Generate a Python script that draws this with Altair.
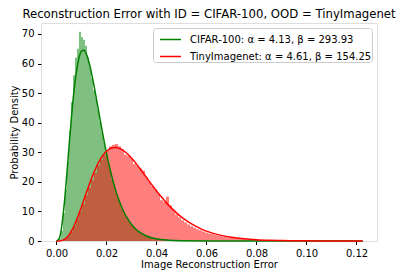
import altair as alt
import pandas as pd

# ---- data ----
cifar_label = "CIFAR-100: α = 4.13, β = 293.93"
tiny_label = "TinyImagenet: α = 4.61, β = 154.25"

green_bin_start = 0.0002
green_bin_width = 0.0008
green_hist = [0.0, 0.8, 3.5, 9.5, 17.5, 27.0, 37.0, 47.0, 56.0, 62.0, 65.0, 70.7, 69.0,
              68.0, 66.0, 62.0, 59.0, 55.0, 51.0, 48.5, 44.5, 40.5, 37.0, 33.5, 30.0,
              27.0, 24.0, 21.0, 19.0, 16.5, 14.5, 12.8, 11.0, 9.6, 8.3, 7.2, 6.2, 5.3,
              4.6, 4.0, 3.4, 2.9, 2.5, 2.1, 1.8, 1.55, 1.3, 1.1, 0.95, 0.8, 0.68, 0.58,
              0.5, 0.42, 0.36, 0.3, 0.25, 0.21, 0.18, 0.15, 0.12, 0.1, 0.08]

red_bin_start = 0.0006
red_bin_width = 0.0012
red_hist = [0.0, 0.2, 0.6, 1.6, 3.2, 5.0, 7.5, 10.0, 12.5, 15.5, 18.0, 20.5, 23.0, 25.5,
            27.5, 29.0, 30.5, 32.0, 32.5, 32.8, 32.0, 31.0, 29.2, 28.8, 28.0, 26.0,
            25.5, 24.5, 23.8, 21.5, 20.0, 18.5, 17.5, 16.0, 13.8, 13.2, 15.0, 12.0,
            10.5, 9.0, 8.0, 7.0, 6.3, 5.6, 5.0, 4.5, 4.0, 3.6, 3.2, 2.8, 2.5, 2.3,
            2.0, 1.8, 1.6, 1.4, 1.25, 1.1, 1.0, 0.85, 0.75, 0.65, 0.58, 0.5, 0.45,
            0.4, 0.35, 0.3, 0.27, 0.23, 0.2, 0.18, 0.16, 0.14, 0.12, 0.1, 0.09, 0.08,
            0.07, 0.06, 0.05, 0.045, 0.04, 0.035, 0.03, 0.025, 0.02, 0.02, 0.015,
            0.015, 0.01, 0.01, 0.01, 0.008, 0.006, 0.005, 0.004, 0.004, 0.003, 0.003]

green_fit_x = [0.0, 0.001, 0.002, 0.003, 0.004, 0.005, 0.006, 0.007, 0.008, 0.009, 0.010,
               0.011, 0.012, 0.013, 0.014, 0.015, 0.016, 0.017, 0.018, 0.019, 0.020,
               0.021, 0.022, 0.023, 0.024, 0.025, 0.026, 0.027, 0.028, 0.030, 0.032,
               0.034, 0.036, 0.038, 0.040, 0.045, 0.050, 0.060, 0.070, 0.080, 0.100, 0.1225]
green_fit_y = [0.0, 0.67, 4.38, 11.60, 21.26, 31.87, 42.00, 50.76, 57.46, 61.92, 64.18,
               64.46, 63.08, 60.41, 56.78, 52.52, 47.90, 43.17, 38.48, 33.96, 29.72,
               25.81, 22.25, 19.06, 16.23, 13.75, 11.58, 9.72, 8.12, 5.59, 3.80,
               2.55, 1.70, 1.12, 0.73, 0.24, 0.078, 0.007, 0.0006, 0.00005, 0.0, 0.0]

red_fit_x = [0.0, 0.001, 0.002, 0.003, 0.004, 0.005, 0.006, 0.007, 0.008, 0.009, 0.010,
             0.011, 0.012, 0.013, 0.014, 0.015, 0.016, 0.017, 0.018, 0.019, 0.020,
             0.021, 0.022, 0.023, 0.024, 0.025, 0.026, 0.027, 0.028, 0.030, 0.032,
             0.034, 0.036, 0.038, 0.040, 0.042, 0.044, 0.046, 0.048, 0.050, 0.052,
             0.054, 0.056, 0.058, 0.060, 0.065, 0.070, 0.075, 0.080, 0.085, 0.090,
             0.100, 0.110, 0.1225]
red_fit_y = [0.0, 0.011, 0.12, 0.44, 1.07, 2.06, 3.41, 5.09, 7.07, 9.26, 11.61,
             14.04, 16.48, 18.85, 21.11, 23.21, 25.12, 26.80, 28.23, 29.41, 30.33,
             31.00, 31.42, 31.62, 31.60, 31.38, 30.99, 30.43, 29.75, 28.03, 25.99,
             23.76, 21.46, 19.16, 16.93, 14.84, 12.89, 11.12, 9.52, 8.10, 6.86,
             5.77, 4.84, 4.03, 3.35, 2.07, 1.25, 0.74, 0.43, 0.25, 0.14,
             0.044, 0.013, 0.003]

x_ticks = [0.0, 0.02, 0.04, 0.06, 0.08, 0.10, 0.12]
y_ticks = [0, 10, 20, 30, 40, 50, 60, 70]


def hist_df(start, width, heights):
    return pd.DataFrame({
        "x0": [start + i * width for i in range(len(heights))],
        "x1": [start + (i + 1) * width for i in range(len(heights))],
        "h": heights,
        "base": [0.0] * len(heights),
    })


green_df = hist_df(green_bin_start, green_bin_width, green_hist)
red_df = hist_df(red_bin_start, red_bin_width, red_hist)
fit_df = pd.concat([
    pd.DataFrame({"x": green_fit_x, "y": green_fit_y, "series": cifar_label}),
    pd.DataFrame({"x": red_fit_x, "y": red_fit_y, "series": tiny_label}),
])

FONT = "DejaVu Sans"
xscale = alt.Scale(domain=[-0.0062, 0.1282], nice=False, zero=False)
yscale = alt.Scale(domain=[0, 73.7], nice=False)
xaxis = alt.Axis(values=x_ticks, format=".2f", title="Image Reconstruction Error",
                 grid=False, domain=False, tickSize=3.5, tickColor="black", tickWidth=1,
                 labelPadding=3.5, labelFontSize=10, labelColor="black", labelFont=FONT,
                 titleFontSize=10, titleFont=FONT, titleFontWeight="normal",
                 titleColor="black", titlePadding=1, labelFlush=False)
yaxis = alt.Axis(values=y_ticks, title="Probability Density",
                 grid=False, domain=False, tickSize=3.5, tickColor="black", tickWidth=1,
                 labelPadding=3.5, labelFontSize=10, labelColor="black", labelFont=FONT,
                 titleFontSize=10, titleFont=FONT, titleFontWeight="normal",
                 titleColor="black", titlePadding=2, labelFlush=False)

green_bars = alt.Chart(green_df).mark_rect(color="#008000", opacity=0.5).encode(
    x=alt.X("x0:Q", scale=xscale, axis=xaxis),
    x2="x1:Q",
    y=alt.Y("h:Q", scale=yscale, axis=yaxis),
    y2="base:Q",
)
red_bars = alt.Chart(red_df).mark_rect(color="#ff0000", opacity=0.5).encode(
    x=alt.X("x0:Q", scale=xscale, axis=xaxis),
    x2="x1:Q",
    y=alt.Y("h:Q", scale=yscale, axis=yaxis),
    y2="base:Q",
)
lines = alt.Chart(fit_df).mark_line(strokeWidth=1.5, interpolate="monotone").encode(
    x=alt.X("x:Q", scale=xscale, axis=xaxis),
    y=alt.Y("y:Q", scale=yscale, axis=yaxis),
    color=alt.Color("series:N",
                    scale=alt.Scale(domain=[cifar_label, tiny_label], range=["#008000", "#ff0000"]),
                    sort=[cifar_label, tiny_label],
                    legend=alt.Legend(title=None, orient="top-right", offset=5,
                                      symbolType="stroke", symbolSize=441,
                                      symbolStrokeWidth=1.5, labelFontSize=10,
                                      labelFont=FONT, labelColor="black", labelOffset=8,
                                      padding=0, symbolOffset=6, rowPadding=-7,
                                      labelExpr="datum.label + '\u2003'",
                                      strokeColor="#cccccc",
                                      fillColor="white", cornerRadius=3, labelLimit=400)),
    order="x:Q",
)

chart = alt.layer(green_bars, red_bars, lines).properties(
    width=336, height=218,
    title=alt.TitleParams("Reconstruction Error with ID = CIFAR-100, OOD = TinyImagenet",
                          fontSize=11.7, font=FONT, fontWeight="normal", color="black",
                          anchor="middle", offset=2),
    autosize=alt.AutoSizeParams(type="none"),
    padding={"left": 33, "top": 15, "right": 22, "bottom": 29},
).configure_view(stroke="black", strokeWidth=1).configure(background="white")

chart.save("out.html", embed_options={"renderer": "svg", "actions": False})
